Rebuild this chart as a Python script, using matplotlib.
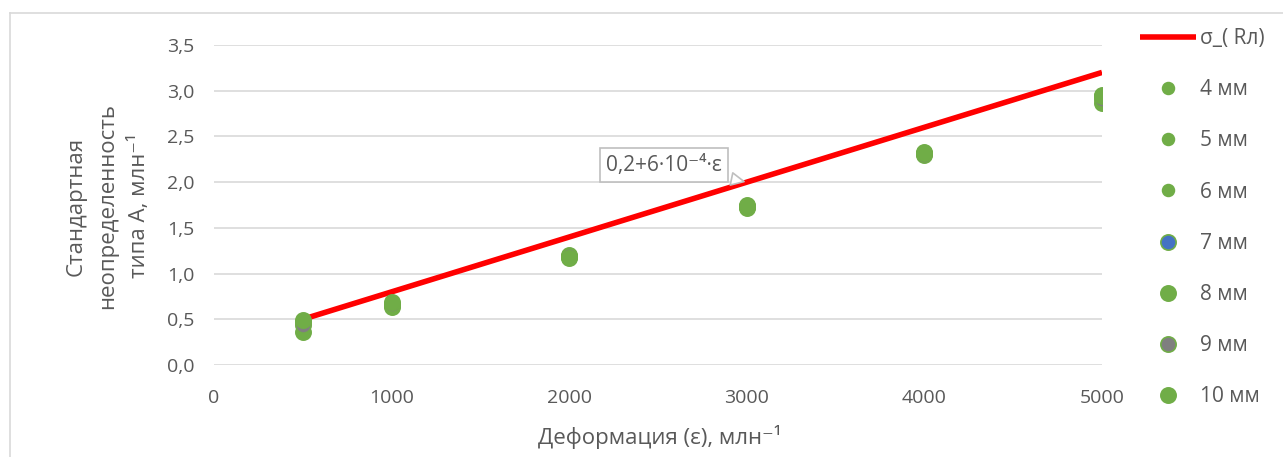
import matplotlib
matplotlib.use("Agg")
import matplotlib.pyplot as plt
from matplotlib.lines import Line2D

plt.rcParams['font.family'] = ['Open Sans', 'DejaVu Sans']

strain = [500, 1000, 2000, 3000, 4000, 5000]
series_labels = ['4 мм', '5 мм', '6 мм', '7 мм', '8 мм', '9 мм', '10 мм']
series_values = [
    [0.45, 0.65, 1.18, 1.73, 2.31, 2.90],
    [0.42, 0.62, 1.17, 1.74, 2.30, 2.88],
    [0.38, 0.68, 1.19, 1.75, 2.32, 2.93],
    [0.47, 0.66, 1.20, 1.73, 2.33, 2.95],
    [0.36, 0.63, 1.18, 1.72, 2.31, 2.87],
    [0.44, 0.67, 1.19, 1.74, 2.30, 2.91],
    [0.49, 0.69, 1.17, 1.75, 2.32, 2.94],
]
face_colors = ['#70AD47', '#70AD47', '#70AD47', '#4472C4', '#70AD47', '#7F7F7F', '#70AD47']
marker_sizes = [8.5, 8.5, 8.5, 11, 11, 11, 11]
fit_x = [500, 5000]
fit_a, fit_b = 0.2, 6e-4
fit_label = 'σ_( Rл)'
x_ticks = [0, 1000, 2000, 3000, 4000, 5000]
y_ticks = [0.0, 0.5, 1.0, 1.5, 2.0, 2.5, 3.0, 3.5]

txt = '#595959'
fig = plt.figure(figsize=(12.83, 4.57), dpi=100)
ax = fig.add_axes([214/1283, 1-365/457, (1102-214)/1283, (365-45)/457])

fit_y = [fit_a + fit_b * x for x in fit_x]
ax.plot(fit_x, fit_y, color='#FF0000', lw=4, solid_capstyle='butt', zorder=3, label=fit_label)
for lab, vals, fc, ms in zip(series_labels, series_values, face_colors, marker_sizes):
    ax.plot(strain, vals, ls='none', marker='o', ms=ms, mfc=fc, mec='#70AD47',
            mew=1.2, zorder=4, label=lab)

ax.set_xlim(0, 5000)
ax.set_ylim(0, 3.5)
ax.set_xticks(x_ticks)
ax.set_yticks(y_ticks)
ax.set_yticklabels([f'{v:.1f}'.replace('.', ',') for v in y_ticks])
ax.tick_params(length=0, labelsize=14, colors=txt)
ax.tick_params(axis='y', pad=14)
ax.tick_params(axis='x', pad=17)
for s in ax.spines.values():
    s.set_visible(False)
ax.grid(axis='y', color='#D9D9D9', lw=1.2)
ax.set_axisbelow(True)

fig.text(660/1283, 1-437/457, 'Деформация (ε), млн⁻¹', ha='center', va='center',
         fontsize=16, color=txt)
fig.text(108/1283, 1-206/457, 'Стандартная\nнеопределенность\nтипа А, млн⁻¹',
         rotation=90, ha='center', va='center', fontsize=16, color=txt, linespacing=1.6)

ax.annotate('0,2+6·10⁻⁴·ε', xy=(3000, 2.0), xytext=(664/1283, 1-165/457),
            textcoords='figure fraction', ha='center', va='center', fontsize=15, color=txt,
            bbox=dict(boxstyle='square,pad=0.3', fc='white', ec='#BFBFBF', lw=1.2),
            arrowprops=dict(arrowstyle='wedge,tail_width=0.6,shrink_factor=0.5',
                            fc='white', ec='#BFBFBF', lw=1.2), zorder=5)

leg = fig.legend(loc='upper left', bbox_to_anchor=(1140/1283, 1-28/457), frameon=False,
                 fontsize=15, labelcolor=txt, labelspacing=1.45, handlelength=2.7,
                 handletextpad=0.2, borderaxespad=0, borderpad=0)

fig.add_artist(Line2D([10/1283, 10/1283], [0, 1-13/457], transform=fig.transFigure,
                      color='#D9D9D9', lw=1.2))
fig.add_artist(Line2D([10/1283, 1], [1-13/457, 1-13/457], transform=fig.transFigure,
                      color='#D9D9D9', lw=1.2))

fig.savefig('out.png', dpi=100)
